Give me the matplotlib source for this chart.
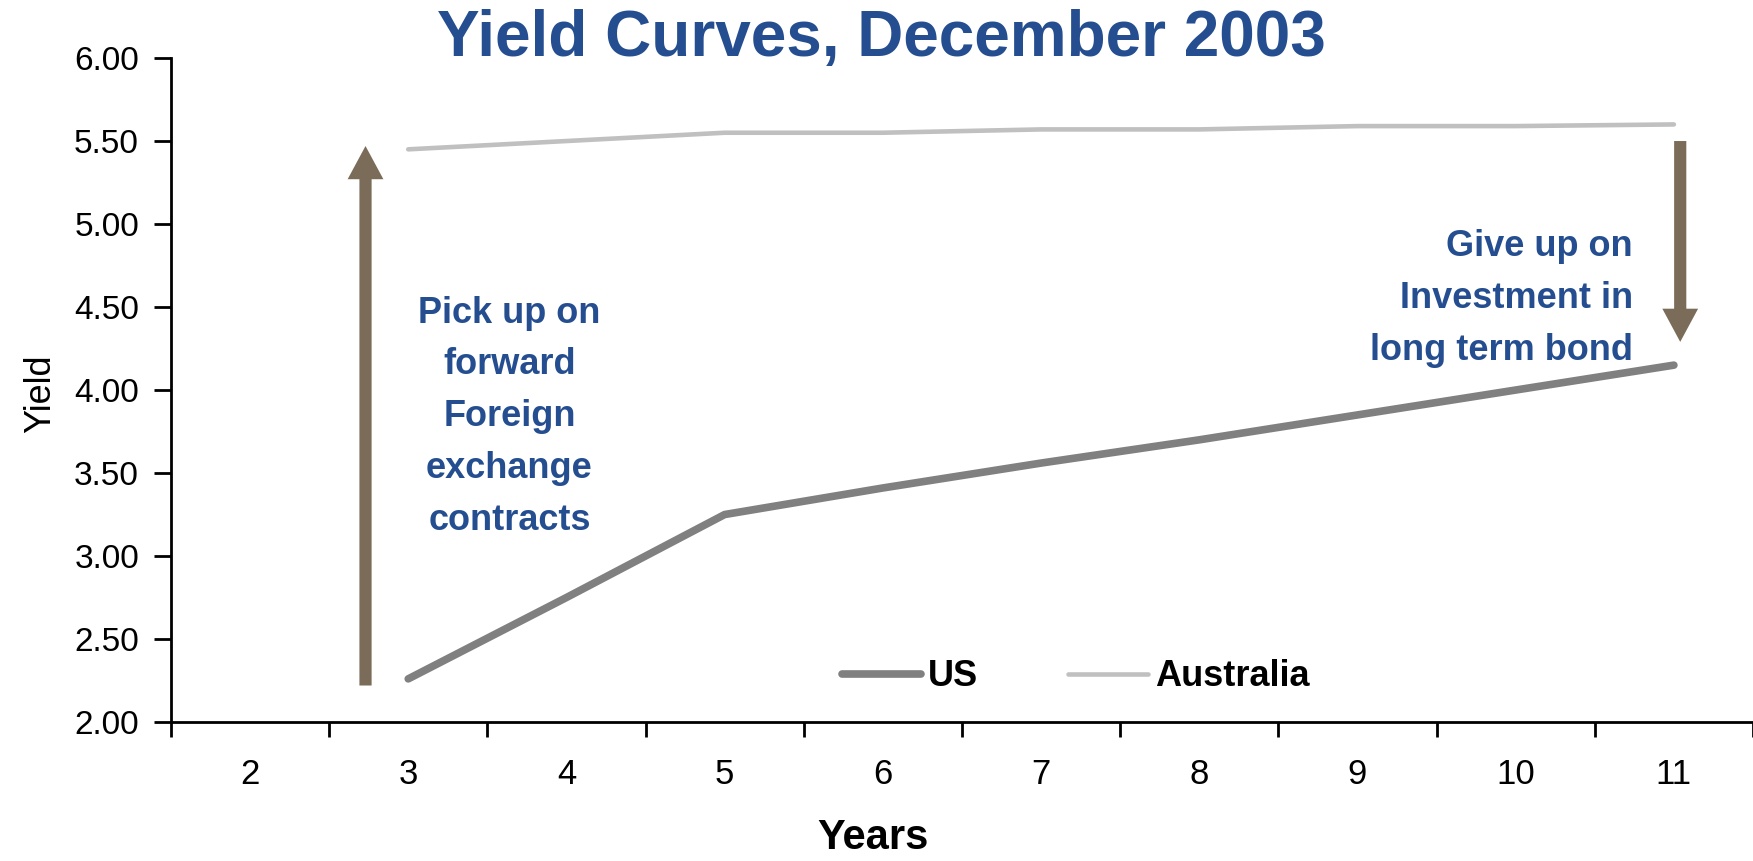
import matplotlib
matplotlib.use('Agg')
import matplotlib.pyplot as plt
import numpy as np

plt.rcParams['font.family'] = ['Liberation Sans', 'DejaVu Sans']

# years on the category axis and the two yield curves
years = ['2', '3', '4', '5', '6', '7', '8', '9', '10', '11']
us_yield = [np.nan, 2.26, 2.75, 3.25, 3.41, 3.56, 3.70, 3.85, 4.00, 4.15]
aus_yield = [np.nan, 5.45, 5.50, 5.55, 5.55, 5.57, 5.57, 5.59, 5.59, 5.60]

title_blue = '#244E8F'
arrow_brown = '#7A6C58'

fig = plt.figure(figsize=(17.53, 8.61), dpi=100)
ax = fig.add_axes([0.0975, 0.1614, 0.9025, 0.7712])

x = np.arange(len(years))
ax.plot(x, us_yield, color='#808080', lw=5.5, solid_capstyle='round', label='US')
ax.plot(x, aus_yield, color='#C0C0C0', lw=3.3, solid_capstyle='round', label='Australia')

ax.set_xlim(-0.5, len(years) - 0.5)
ax.set_ylim(2.0, 6.0)
ax.set_yticks(np.arange(2.0, 6.01, 0.5))
ax.set_yticklabels(['%.2f' % v for v in np.arange(2.0, 6.01, 0.5)])
ax.set_xticks(x)
ax.set_xticklabels(years)
ax.set_xticks(np.arange(-0.5, len(years)), minor=True)
ax.tick_params(axis='x', which='major', length=0, pad=26, labelsize=25)
ax.tick_params(axis='x', which='minor', length=11, width=2, direction='out')
ax.tick_params(axis='y', length=12, width=2, direction='out', labelsize=24, pad=11)

for s in ['top', 'right']:
    ax.spines[s].set_visible(False)
for s in ['left', 'bottom']:
    ax.spines[s].set_linewidth(2)

ax.set_ylabel('Yield', fontsize=26)
ax.yaxis.set_label_coords(-0.071, 0.494)
ax.set_xlabel('Years', fontsize=30, fontweight='bold')
ax.xaxis.set_label_coords(0.444, -0.145)
fig.text(0.503, 0.955, 'Yield Curves, December 2003', ha='center', va='center',
         fontsize=46, fontweight='bold', color=title_blue)

# arrows showing the pick up / give up
ax.arrow(0.73, 2.22, 0, 5.47 - 2.22, width=0.077, head_width=0.226, head_length=0.2,
         length_includes_head=True, color=arrow_brown, lw=0)
ax.arrow(9.04, 5.50, 0, 4.29 - 5.50, width=0.077, head_width=0.226, head_length=0.2,
         length_includes_head=True, color=arrow_brown, lw=0)

ax.text(1.64, 3.84, 'Pick up on\nforward\nForeign\nexchange\ncontracts', ha='center',
        va='center', fontsize=26, fontweight='bold', color=title_blue, linespacing=1.62)
ax.text(8.74, 4.55, 'Give up on\nInvestment in\nlong term bond', ha='right',
        va='center', fontsize=26, fontweight='bold', color=title_blue, linespacing=1.62)

leg = ax.legend(loc='center left', bbox_to_anchor=(0.424, 0.068), ncol=2, frameon=False,
                prop={'weight': 'bold', 'size': 26}, handlelength=2.2, columnspacing=2.5,
                handletextpad=0.19, borderpad=0, borderaxespad=0)

fig.savefig('out.png', dpi=100)
